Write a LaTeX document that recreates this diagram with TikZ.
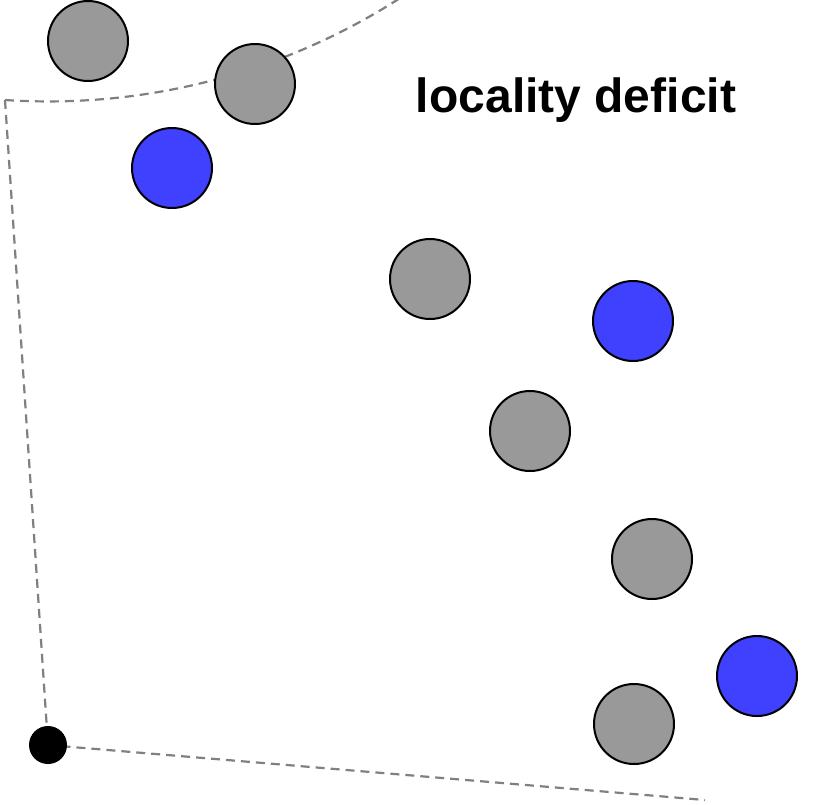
\documentclass[tikz,border=0pt]{standalone}
\usepackage{fontspec}
\setmainfont{Liberation Sans}
\begin{document}
\begin{tikzpicture}[x=1pt,y=-1pt,
  gnode/.style={circle,draw=black,line width=2pt,fill=gray!80!white,minimum size=80pt,inner sep=0pt},
  bnode/.style={gnode,fill={rgb,255:red,64;green,64;blue,255}},
  bound/.style={dashed,draw=gray,line width=2.2pt,dash pattern=on 9pt off 6pt}]
\useasboundingbox (0,0) rectangle (830,804);
\definecolor{g}{RGB}{153,153,153}
\tikzset{gnode/.append style={fill=g}}
\coordinate (c) at (48,745);
\coordinate (p1) at (5,100);
\coordinate (p2) at (705,800);
\draw[bound] (p1) -- (c) -- (p2);
\draw[bound] (p1) arc[start angle=93.8,end angle=-4.8,radius=651];
\node[circle,fill=black,minimum size=38pt,inner sep=0pt] (dot) at (c) {};
\node[gnode] (a1) at (88,41) {};
\node[gnode] (a2) at (255,84) {};
\node[bnode] (b1) at (172,168) {};
\node[gnode] (a3) at (430,279) {};
\node[bnode] (b2) at (633,321) {};
\node[gnode] (a4) at (530,431) {};
\node[gnode] (a5) at (652,559) {};
\node[bnode] (b3) at (757,676) {};
\node[gnode] (a6) at (634,724) {};
\node[font=\fontsize{48}{56}\selectfont\bfseries] (t) at (576,100) {locality deficit};
\end{tikzpicture}
\end{document}
